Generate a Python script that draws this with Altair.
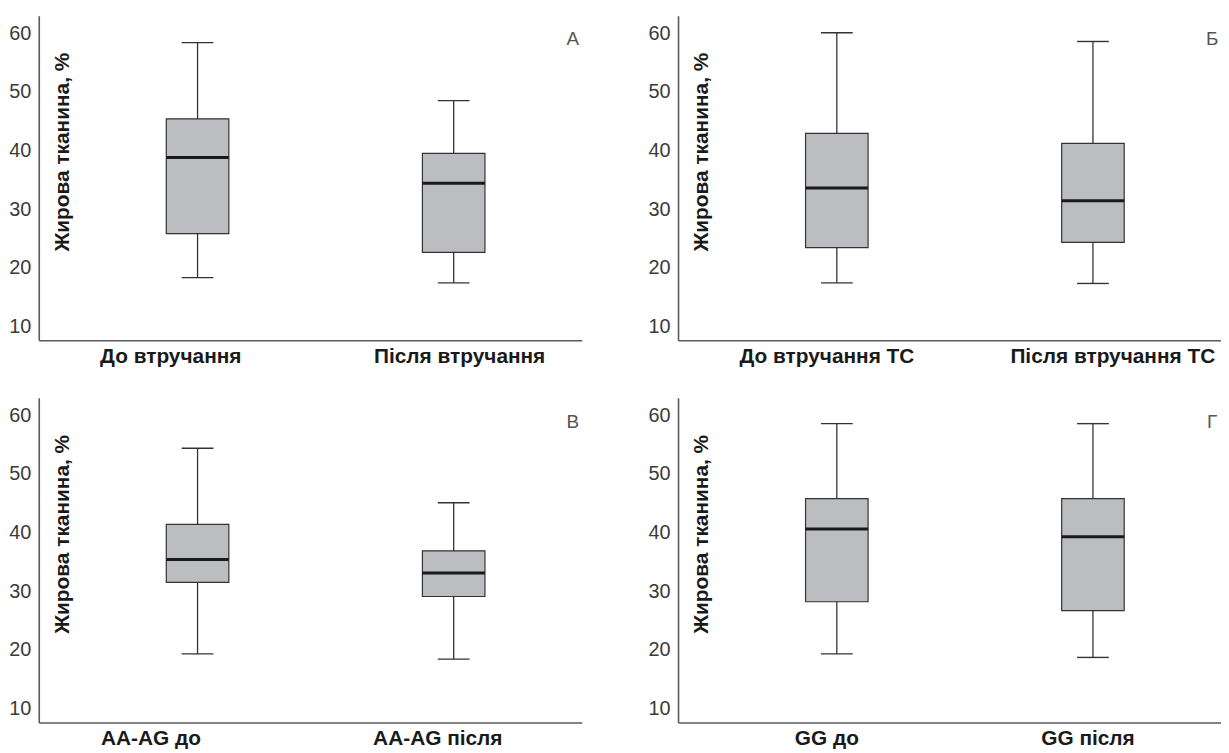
import altair as alt
import pandas as pd

# ---- data ----
letters = ["А", "Б", "В", "Г"]

cats_a = ["До втручання", "Після втручання"]
lower_a = [18.3, 17.4]
q1_a = [25.8, 22.6]
median_a = [38.8, 34.4]
q3_a = [45.4, 39.5]
upper_a = [58.4, 48.5]

cats_b = ["До втручання ТС", "Після втручання ТС"]
lower_b = [17.4, 17.3]
q1_b = [23.4, 24.3]
median_b = [33.6, 31.4]
q3_b = [42.9, 41.2]
upper_b = [60.1, 58.6]

cats_v = ["АА-AG до", "AA-AG після"]
lower_v = [19.3, 18.4]
q1_v = [31.5, 29.1]
median_v = [35.4, 33.1]
q3_v = [41.4, 36.9]
upper_v = [54.4, 45.1]

cats_g = ["GG до", "GG після"]
lower_g = [19.3, 18.7]
q1_g = [28.2, 26.7]
median_g = [40.6, 39.3]
q3_g = [45.8, 45.8]
upper_g = [58.6, 58.6]

y_ticks = [10, 20, 30, 40, 50, 60]
y_title = "Жирова тканина, %"

# per-panel label shifts (labels are not centred under the boxes)
label_shift = {
    "А": (-27, 6),
    "Б": (-10, 20),
    "В": (-47, -16),
    "Г": (-10, -5),
}

FONT = "Liberation Sans"
BOX_FILL = "#bcbdc0"
LINE = "#333333"
AXIS = "#5a5a5a"


def panel(letter, cats, lower, q1, med, q3, upper):
    df = pd.DataFrame({"cat": cats, "lower": lower, "q1": q1,
                       "median": med, "q3": q3, "upper": upper})
    off = label_shift[letter]
    xscale = alt.Scale(paddingInner=0, paddingOuter=0.06, align=1)
    xaxis = alt.Axis(
        title=None, labelAngle=0, labelFont=FONT, labelFontSize=21,
        labelFontWeight="bold", labelColor="#1a1a1a", labelPadding=5,
        labelLimit=0, ticks=False, grid=False, domainColor=AXIS,
        domainWidth=1.6,
        labelOffset={"condition": {"test": f"datum.value == '{cats[0]}'",
                                   "value": off[0]}, "value": off[1]},
    )
    x = alt.X("cat:N", sort=cats, scale=xscale, axis=xaxis)
    yscale = alt.Scale(domain=[7.6, 63.0], nice=False, zero=False)
    yaxis = alt.Axis(
        values=y_ticks, title=y_title, titleX=24, titleY=137, titleAngle=270,
        titleAlign="center", titleBaseline="middle", titleFont=FONT,
        titleFontSize=21, titleFontWeight="bold", titleColor="#1a1a1a",
        labelFont=FONT, labelFontSize=20, labelColor="#3a3a3a",
        labelPadding=8, ticks=False, grid=False, domainColor=AXIS,
        domainWidth=1.6,
    )
    base = alt.Chart(df)
    whisk = base.mark_rule(color=LINE, strokeWidth=1.3).encode(
        x=x, y=alt.Y("lower:Q", scale=yscale, axis=yaxis), y2="upper:Q")
    box = base.mark_bar(size=63, color=BOX_FILL, stroke=LINE,
                        strokeWidth=1.2, opacity=1).encode(
        x=x, y=alt.Y("q1:Q", scale=yscale), y2="q3:Q")
    mid = base.mark_tick(size=63, thickness=3, color="#1a1a1a",
                         opacity=1).encode(
        x=x, y=alt.Y("median:Q", scale=yscale))
    cap_lo = base.mark_tick(size=32, thickness=1.4, color=LINE,
                            opacity=1).encode(
        x=x, y=alt.Y("lower:Q", scale=yscale))
    cap_hi = base.mark_tick(size=32, thickness=1.4, color=LINE,
                            opacity=1).encode(
        x=x, y=alt.Y("upper:Q", scale=yscale))
    tag = alt.Chart(pd.DataFrame({"t": [letter]})).mark_text(
        font=FONT, fontSize=19, color="#555555", align="center",
        baseline="middle").encode(
        x=alt.value(538), y=alt.value(24), text="t:N")
    return alt.layer(whisk, box, mid, cap_lo, cap_hi, tag).properties(
        width=547, height=327)


pa = panel("А", cats_a, lower_a, q1_a, median_a, q3_a, upper_a)
pb = panel("Б", cats_b, lower_b, q1_b, median_b, q3_b, upper_b)
pv = panel("В", cats_v, lower_v, q1_v, median_v, q3_v, upper_v)
pg = panel("Г", cats_g, lower_g, q1_g, median_g, q3_g, upper_g)

chart = alt.vconcat(
    alt.hconcat(pa, pb, spacing=66),
    alt.hconcat(pv, pg, spacing=66),
    spacing=32,
).properties(
    padding={"left": 0, "top": 5, "right": 0, "bottom": 0},
    background="white",
).configure_view(stroke=None)

chart.save("out.html", embed_options={"renderer": "svg", "actions": False})
